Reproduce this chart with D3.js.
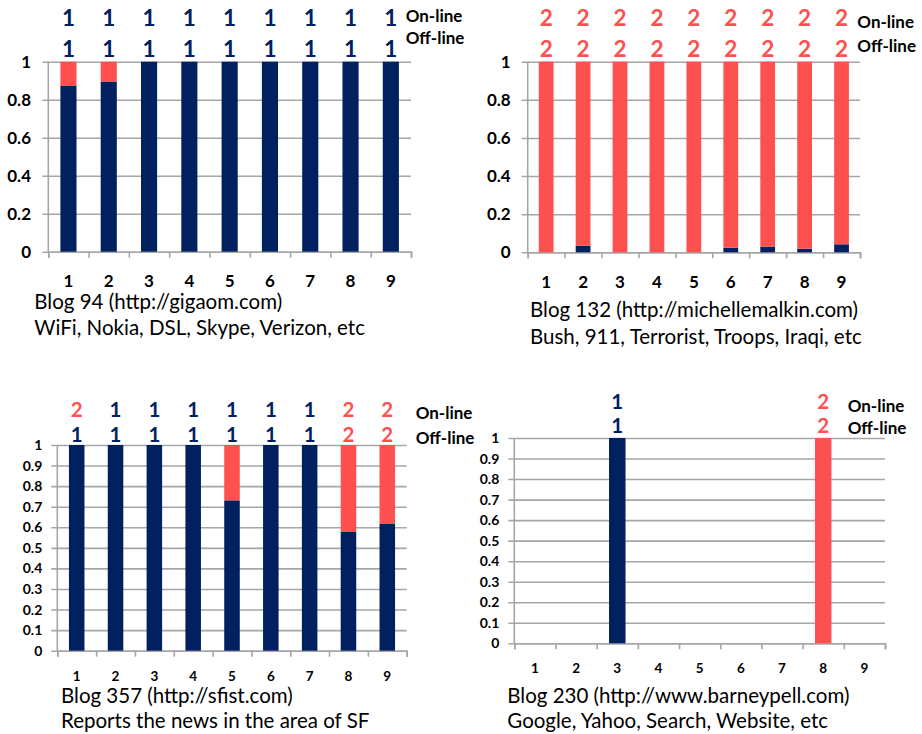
<!DOCTYPE html>
<html><head><meta charset="utf-8">
<script src="https://cdn.jsdelivr.net/npm/d3@7"></script>
<style>
html,body{margin:0;padding:0;background:#fff;}
svg{display:block;font-family:Lato,"Noto Sans",sans-serif;}
</style></head>
<body>
<svg id="chart" width="922" height="734"></svg>
<script>
// ---------- data ----------
const categories = ["1","2","3","4","5","6","7","8","9"];

// Blog 94
const blog94Class1 = [0.872,0.896,1,1,1,1,1,1,1];
const blog94Class2 = [0.128,0.104,0,0,0,0,0,0,0];
const blog94Online  = ["1","1","1","1","1","1","1","1","1"];
const blog94Offline = ["1","1","1","1","1","1","1","1","1"];
const blog94Caption = ["Blog 94 (http://gigaom.com)","WiFi, Nokia, DSL, Skype, Verizon, etc"];

// Blog 132
const blog132Class1 = [0,0.035,0,0,0,0.024,0.03,0.019,0.042];
const blog132Class2 = [1,0.965,1,1,1,0.976,0.97,0.981,0.958];
const blog132Online  = ["2","2","2","2","2","2","2","2","2"];
const blog132Offline = ["2","2","2","2","2","2","2","2","2"];
const blog132Caption = ["Blog 132 (http://michellemalkin.com)","Bush, 911, Terrorist, Troops, Iraqi, etc"];

// Blog 357
const blog357Class1 = [1,1,1,1,0.731,1,1,0.577,0.616];
const blog357Class2 = [0,0,0,0,0.269,0,0,0.423,0.384];
const blog357Online  = ["2","1","1","1","1","1","1","2","2"];
const blog357Offline = ["1","1","1","1","1","1","1","2","2"];
const blog357Caption = ["Blog 357 (http://sfist.com)","Reports the news in the area of SF"];

// Blog 230
const blog230Class1 = [0,0,1,0,0,0,0,0,0];
const blog230Class2 = [0,0,0,0,0,0,0,1,0];
const blog230Online  = ["","","1","","","","","2",""];
const blog230Offline = ["","","1","","","","","2",""];
const blog230Caption = ["Blog 230 (http://www.barneypell.com)","Google, Yahoo, Search, Website, etc"];

const yTicksCoarse = [0,0.2,0.4,0.6,0.8,1];
const yTicksFine = [0,0.1,0.2,0.3,0.4,0.5,0.6,0.7,0.8,0.9,1];
const legendLabels = ["On-line","Off-line"];

// ---------- style ----------
const NAVY = "#002060", RED = "#FF5050", GRID = "#a6a6a6";
const labelColor = v => v === "1" ? NAVY : RED;

const panels = [
  {c1:blog94Class1,c2:blog94Class2,on:blog94Online,off:blog94Offline,cap:blog94Caption,ticks:yTicksCoarse,fmt:d3.format("~g"),
   x0:48.3,x1:411,yZ:251.7,yO:61.7,yPad:11.3,yFont:17,xFont:17,xBase:287,numFont:22.5,numBase:[26,56.7],
   legX:405.7,legBase:[21.7,44],capX:34.3,capBase:[309,335]},
  {c1:blog132Class1,c2:blog132Class2,on:blog132Online,off:blog132Offline,cap:blog132Caption,ticks:yTicksCoarse,fmt:d3.format("~g"),
   x0:527.7,x1:860,yZ:252.3,yO:61.7,yPad:11,yFont:17,xFont:17,xBase:287.5,numFont:22.5,numBase:[26,56.7],
   legX:857.3,legBase:[28.3,51.7],capX:530,capBase:[317,343.5]},
  {c1:blog357Class1,c2:blog357Class2,on:blog357Online,off:blog357Offline,cap:blog357Caption,ticks:yTicksFine,fmt:d3.format("~g"),
   x0:57.3,x1:406.7,yZ:650.7,yO:445,yPad:9,yFont:14,xFont:13.5,xBase:680.7,numFont:20.5,numBase:[417.3,441.7],
   legX:415.7,legBase:[419.3,444.3],capX:61,capBase:[703.3,728.3]},
  {c1:blog230Class1,c2:blog230Class2,on:blog230Online,off:blog230Offline,cap:blog230Caption,ticks:yTicksFine,fmt:d3.format("~g"),
   x0:514.3,x1:885,yZ:643.3,yO:438,yPad:9,yFont:14,xFont:13.5,xBase:672.7,numFont:20.5,numBase:[409.3,433.3],
   legX:847.7,legBase:[411.7,434.3],capX:507.3,capBase:[702.7,728.3]}
];

const svg = d3.select("#chart");

panels.forEach(p => {
  const g = svg.append("g");
  const x = d3.scaleBand().domain(categories).range([p.x0,p.x1]).paddingInner(0.6).paddingOuter(0.3);
  const y = d3.scaleLinear().domain([0,1]).range([p.yZ,p.yO]);
  const w = p.x1 - p.x0;

  // gridlines + y labels
  const yAxis = g.append("g").attr("transform",`translate(${p.x1},0)`)
    .call(d3.axisLeft(y).tickValues(p.ticks).tickFormat(p.fmt).tickSize(w+6).tickPadding(p.yPad));
  yAxis.select(".domain").remove();
  yAxis.selectAll(".tick line").attr("stroke",GRID).attr("stroke-width",1.6);
  yAxis.selectAll(".tick text").attr("fill","#000").attr("font-size",p.yFont).attr("font-weight","bold")
    .attr("font-family","Lato,sans-serif");

  // left axis line
  g.append("line").attr("x1",p.x0).attr("x2",p.x0).attr("y1",y(1)).attr("y2",y(0))
    .attr("stroke",GRID).attr("stroke-width",1.6);

  // bottom axis with ticks at band boundaries
  const xb = d3.scaleLinear().domain([0,categories.length]).range([p.x0,p.x1]);
  const xAxis = g.append("g").attr("transform",`translate(0,${p.yZ})`)
    .call(d3.axisBottom(xb).tickValues(d3.range(categories.length+1)).tickFormat("").tickSize(6).tickSizeOuter(6));
  xAxis.select(".domain").attr("stroke",GRID).attr("stroke-width",1.6);
  xAxis.selectAll(".tick line").attr("stroke",GRID).attr("stroke-width",1.6);

  // x labels
  g.append("g").selectAll("text").data(categories).join("text")
    .attr("x",d => x(d)+x.bandwidth()/2).attr("y",p.xBase)
    .attr("text-anchor","middle").attr("font-size",p.xFont).attr("font-weight","bold").attr("fill","#000")
    .text(d => d);

  // stacked bars
  const bars = categories.map((c,i) => ({c, a:p.c1[i], b:p.c2[i]}));
  g.append("g").selectAll("rect.c1").data(bars.filter(d=>d.a>0)).join("rect")
    .attr("x",d=>x(d.c)).attr("width",x.bandwidth())
    .attr("y",d=>y(d.a)).attr("height",d=>y(0)-y(d.a)).attr("fill",NAVY);
  g.append("g").selectAll("rect.c2").data(bars.filter(d=>d.b>0)).join("rect")
    .attr("x",d=>x(d.c)).attr("width",x.bandwidth())
    .attr("y",d=>y(d.a+d.b)).attr("height",d=>y(d.a)-y(d.a+d.b)).attr("fill",RED);

  // on-line / off-line class labels
  [p.on,p.off].forEach((arr,k) => {
    g.append("g").selectAll("text").data(categories.map((c,i)=>({c,v:arr[i]})).filter(d=>d.v)).join("text")
      .attr("x",d => x(d.c)+x.bandwidth()/2).attr("y",p.numBase[k])
      .attr("text-anchor","middle").attr("font-size",p.numFont).attr("font-weight","bold")
      .attr("fill",d=>labelColor(d.v)).text(d=>d.v);
  });

  // legend text
  legendLabels.forEach((t,k) => {
    g.append("text").attr("x",p.legX).attr("y",p.legBase[k]).attr("font-size",17).attr("font-weight","bold")
      .attr("fill","#000").text(t);
  });

  // caption
  p.cap.forEach((t,k) => {
    g.append("text").attr("x",p.capX).attr("y",p.capBase[k]).attr("font-size",20.5)
      .attr("fill","#000").text(t);
  });
});
</script>
</body></html>
